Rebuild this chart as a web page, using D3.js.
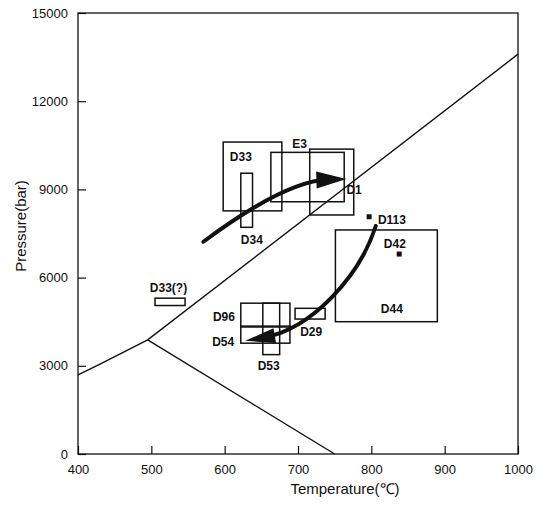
<!DOCTYPE html>
<html>
<head>
<meta charset="utf-8">
<script src="https://cdn.jsdelivr.net/npm/d3@7"></script>
<style>
  body { margin: 0; background: #fff; }
  svg { font-family: "Liberation Sans", Arial, sans-serif; }
  .tick text { font-size: 13px; fill: #111; }
  .lbl { font-size: 12px; font-weight: bold; fill: #111; }
  .title { font-size: 15px; fill: #111; }
</style>
</head>
<body>
<div class="chart"></div>
<script>
// ticks
const xTicks = [400, 500, 600, 700, 800, 900, 1000];
const yTicks = [0, 3000, 6000, 9000, 12000, 15000];

// phase boundaries [T, P]
const boundaryUpper = [[400, 2690], [430, 3060], [495, 3880], [1000, 13600]];
const boundaryLower = [[495, 3880], [750, 0]];

// sample boxes: [Tmin, Tmax, Pmin, Pmax]
const boxes = [
  { name: "D33", t0: 598, t1: 678, p0: 8270, p1: 10610 },
  { name: "E3", t0: 663, t1: 763, p0: 8580, p1: 10260 },
  { name: "D1", t0: 716, t1: 776, p0: 8130, p1: 10370 },
  { name: "D34", t0: 622, t1: 638, p0: 7710, p1: 9550 },
  { name: "D33(?)", t0: 505, t1: 546, p0: 5050, p1: 5300 },
  { name: "D96", t0: 622, t1: 689, p0: 4320, p1: 5130 },
  { name: "D54", t0: 622, t1: 689, p0: 3770, p1: 4350 },
  { name: "D53", t0: 652, t1: 675, p0: 3380, p1: 5130 },
  { name: "D29", t0: 696, t1: 737, p0: 4590, p1: 4955 },
  { name: "D44", t0: 751, t1: 890, p0: 4500, p1: 7620 }
];

// point samples
const points = [
  { name: "D113", t: 797, p: 8070 },
  { name: "D42", t: 838, p: 6800 }
];

// labels [text, T, P] (start anchored)
const labels = [
  ["D33", 607, 9960], ["E3", 692, 10400], ["D1", 766, 8840], ["D34", 622, 7140],
  ["D113", 809, 7820], ["D42", 817, 7000], ["D44", 813, 4810], ["D33(?)", 498, 5520],
  ["D96", 584, 4530], ["D54", 583, 3680], ["D53", 645, 2850], ["D29", 703, 4020]
];

// P-T paths as cubic curves: start, control 1, control 2, tip
const path1 = [[571, 7220], [640, 8500], [700, 9300], [766, 9354]];
const path2 = [[806, 7755], [785, 6100], [720, 4250], [628, 3850]];

const width = 548, height = 507;

const svg = d3.select(".chart").append("svg")
  .attr("width", width).attr("height", height);

const x = d3.scaleLinear().domain([400, 1000]).range([78, 518]);
const y = d3.scaleLinear().domain([0, 15000]).range([454, 13]);

// axes with inward ticks
svg.append("g")
  .attr("transform", "translate(0," + y(0) + ")")
  .call(d3.axisBottom(x).tickValues(xTicks).tickFormat(d3.format("d"))
    .tickSizeInner(-8).tickSizeOuter(0).tickPadding(11))
  .call(g => g.select(".domain").remove())
  .call(g => g.selectAll("line").attr("stroke", "#111").attr("stroke-width", 1.2));

svg.append("g")
  .attr("transform", "translate(" + x(400) + ",0)")
  .call(d3.axisLeft(y).tickValues(yTicks).tickFormat(d3.format("d"))
    .tickSizeInner(-8).tickSizeOuter(0).tickPadding(10))
  .call(g => g.select(".domain").remove())
  .call(g => g.selectAll("line").attr("stroke", "#111").attr("stroke-width", 1.2));

// frame
svg.append("rect")
  .attr("x", x(400)).attr("y", y(15000))
  .attr("width", x(1000) - x(400)).attr("height", y(0) - y(15000))
  .attr("fill", "none").attr("stroke", "#111").attr("stroke-width", 1.3);

const line = d3.line().x(d => x(d[0])).y(d => y(d[1]));

svg.append("path").datum(boundaryUpper)
  .attr("d", line)
  .attr("fill", "none").attr("stroke", "#111").attr("stroke-width", 1.4);
svg.append("path").datum(boundaryLower)
  .attr("d", line)
  .attr("fill", "none").attr("stroke", "#111").attr("stroke-width", 1.4);

// boxes
svg.selectAll(".box").data(boxes).enter().append("rect")
  .attr("class", "box")
  .attr("x", d => x(d.t0)).attr("y", d => y(d.p1))
  .attr("width", d => x(d.t1) - x(d.t0))
  .attr("height", d => y(d.p0) - y(d.p1))
  .attr("fill", "none").attr("stroke", "#111").attr("stroke-width", 1.5);

// point markers
svg.selectAll(".pt").data(points).enter().append("rect")
  .attr("class", "pt")
  .attr("x", d => x(d.t) - 2.5).attr("y", d => y(d.p) - 2.5)
  .attr("width", 5).attr("height", 5).attr("fill", "#111");

// arrows
function drawArrow(pts, headLen, headHalf) {
  const p = pts.map(d => [x(d[0]), y(d[1])]);
  const tx = p[3][0], ty = p[3][1];
  const dx = tx - p[2][0], dy = ty - p[2][1];
  const len = Math.sqrt(dx * dx + dy * dy);
  const ux = dx / len, uy = dy / len;
  const bx = tx - ux * headLen, by = ty - uy * headLen;
  const path = d3.path();
  path.moveTo(p[0][0], p[0][1]);
  path.bezierCurveTo(p[1][0], p[1][1], p[2][0], p[2][1], tx - ux * headLen * 0.6, ty - uy * headLen * 0.6);
  svg.append("path")
    .attr("d", path.toString())
    .attr("fill", "none").attr("stroke", "#111").attr("stroke-width", 4)
    .attr("stroke-linecap", "round");
  svg.append("path")
    .attr("d", "M" + tx + "," + ty +
      "L" + (bx - uy * headHalf) + "," + (by + ux * headHalf) +
      "L" + (bx + uy * headHalf) + "," + (by - ux * headHalf) + "Z")
    .attr("fill", "#111");
}
drawArrow(path1, 30, 8.5);
drawArrow(path2, 30, 7.5);

// labels
svg.selectAll(".lbl").data(labels).enter().append("text")
  .attr("class", "lbl")
  .attr("x", d => x(d[1])).attr("y", d => y(d[2]))
  .text(d => d[0]);

// axis titles
svg.append("text").attr("class", "title")
  .attr("x", 345).attr("y", 494).attr("text-anchor", "middle")
  .text("Temperature(℃)");
svg.append("text").attr("class", "title")
  .attr("transform", "translate(26,226) rotate(-90)")
  .attr("text-anchor", "middle")
  .text("Pressure(bar)");
</script>
</body>
</html>
